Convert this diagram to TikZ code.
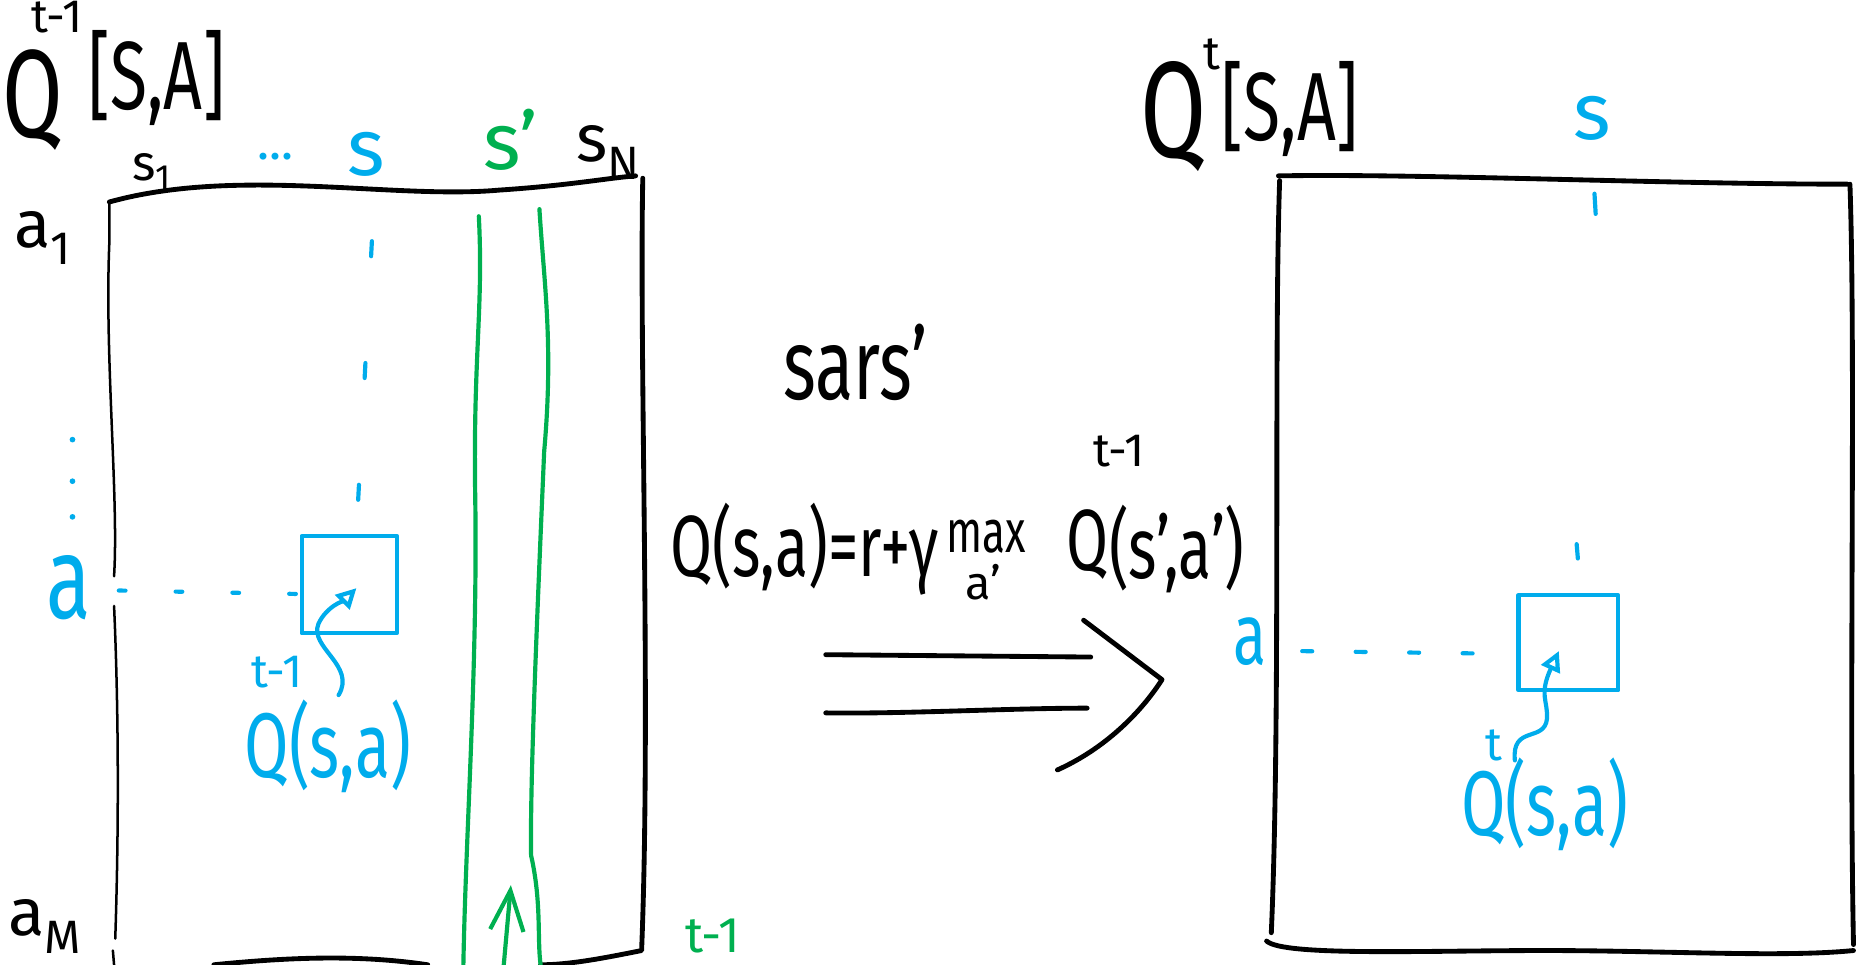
\documentclass[tikz,border=0pt]{standalone}
\usepackage{fontspec}
\usepackage{graphicx}
\setmainfont{Fira Sans}
\usetikzlibrary{arrows.meta}
\definecolor{cblue}{RGB}{0,172,236}
\definecolor{cgreen}{RGB}{0,176,80}
\newcommand\fsz[1]{\fontsize{#1}{#1}\selectfont}
\newcommand\sq[1]{\scalebox{0.7}[1]{#1}}
\begin{document}
\begin{tikzpicture}[x=0.025cm,y=-0.025cm,line cap=round,line join=round,
  ink/.style={line width=2.9pt,black},
  thinink/.style={line width=1.5pt,black},
  bink/.style={line width=2.5pt,cblue},
  gink/.style={line width=2.5pt,cgreen},
  txt/.style={inner sep=0pt,outer sep=1pt},
  btxt/.style={txt,text=cblue},
  gtxt/.style={txt,text=cgreen},
  cell/.style={draw=cblue,line width=2.5pt,minimum width=2cm,minimum height=2.05cm,inner sep=0pt}]
\useasboundingbox (0,0) rectangle (1568,812);

% ---------- left title ----------
\node[txt] (lQ) at (28,84) {\fsz{75}\sq{Q}};
\node[txt] (lSA) at (132,66) {\fsz{58}\sq{[S,A]}};
\node[txt] (lT) at (48,14) {\fsz{28}t-1};

% column labels
\node[txt] (s1) at (128,144) {\fsz{30}s\textsubscript{1}};
\node[btxt] (dots) at (232,132) {\fsz{30}...};
\node[btxt] (sL) at (308,130) {\fsz{48}s};
\node[gtxt] (sp) at (430,118) {\fsz{48}s'};
\node[txt] (sN) at (512,128) {\fsz{40}s\textsubscript{N}};

% row labels
\node[txt] (a1) at (36,200) {\fsz{40}a\textsubscript{1}};
\node[btxt] (aL) at (58,495) {\fsz{70}\sq{a}};
\node[txt] (aM) at (38,780) {\fsz{40}a\textsubscript{M}};
\foreach \yy in {370,405,435} \fill[cblue] (61,\yy) circle (2.4);

% left matrix
\coordinate (LTL) at (92,170);
\coordinate (LTR) at (535,148);
\coordinate (LBR) at (540,800);
\coordinate (LBL) at (96,812);
\draw[ink] (LTL) .. controls (200,140) and (330,168) .. (420,160) .. controls (480,156) and (510,150) .. (LTR);
\draw[thinink] (LTL) -- (92,205) .. controls (88,300) and (100,420) .. (96,485);
\draw[thinink] (96,510) .. controls (100,600) and (100,700) .. (97,790);
\draw[thinink] (95,800) -- (LBL);
\draw[ink] (541,150) .. controls (538,300) and (548,600) .. (LBR) .. controls (510,806) and (480,812) .. (455,812);
\draw[ink] (180,812) .. controls (240,806) and (300,803) .. (360,812);

% green column
\draw[gink] (403,182) .. controls (407,260) and (398,300) .. (400,420) .. controls (402,560) and (392,700) .. (390,812);
\draw[gink] (454,176) .. controls (458,240) and (466,290) .. (458,380) .. controls (452,520) and (446,660) .. (447,720) .. controls (456,760) and (452,790) .. (455,812);
\coordinate (gA) at (424,812);
\coordinate (gB) at (430,745);
\draw[gink,-{Straight Barb[length=24pt,width=20pt]}] (gA) -- (gB);
\node[gtxt] (gT) at (600,788) {\fsz{30}t-1};

% blue dashes
\draw[bink,dash pattern=on 9pt off 64pt] (313,203) -- (300,448);
\draw[bink,dash pattern=on 4pt off 30pt] (100,497) -- (255,500);

% blue cell and label
\node[cell] (cellL) at (294,492) {};
\node[btxt] (lt1) at (233,566) {\fsz{28}t-1};
\node[btxt] (lQsa) at (276,628) {\fsz{55}\sq{Q(s,a)}};
\draw[bink,-{Triangle[open,length=12pt,width=12pt]}] (285,585) .. controls (300,560) and (260,545) .. (268,525) .. controls (275,510) and (290,505) .. (300,495);

% ---------- middle ----------
\node[txt] (sars) at (720,305) {\fsz{60}\sq{sars'}};
\node[txt,anchor=west] (eqA) at (563,462) {\fsz{52}\sq{Q(s,a)=r+γ}};
\node[txt] (eqMax) at (830,452) {\fsz{36}\sq{max}};
\node[txt] (eqSub) at (828,490) {\fsz{28}a'};
\node[txt] (eqQ) at (915,458) {\fsz{52}\sq{Q}};
\node[txt] (eqT) at (942,380) {\fsz{28}t-1};
\node[txt,anchor=west] (eqB) at (932,462) {\fsz{52}\sq{(s',a')}};

\coordinate (ar1a) at (695,551);
\coordinate (ar1b) at (918,553);
\coordinate (ar2a) at (695,600);
\coordinate (ar2b) at (915,596);
\draw[ink] (ar1a) -- (ar1b);
\draw[ink] (ar2a) .. controls (760,601) and (850,596) .. (ar2b);
\draw[ink] (912,522) -- (978,572) .. controls (960,600) and (930,630) .. (890,648);

% ---------- right ----------
\node[txt] (rQ) at (988,98) {\fsz{82}\sq{Q}};
\node[txt] (rT) at (1020,46) {\fsz{28}t};
\node[txt] (rSA) at (1086,92) {\fsz{58}\sq{[S,A]}};
\node[btxt] (sR) at (1340,100) {\fsz{48}s};

\coordinate (RTL) at (1076,148);
\coordinate (RTR) at (1555,155);
\coordinate (RBR) at (1560,800);
\coordinate (RBL) at (1066,792);
\draw[ink] (RTL) .. controls (1200,146) and (1400,155) .. (RTR);
\draw[ink] (1077,152) .. controls (1072,300) and (1078,600) .. (1070,785);
\draw[ink] (1557,155) .. controls (1562,300) and (1556,600) .. (1560,795);
\draw[ink] (RBL) .. controls (1080,805) and (1200,800) .. (1300,800) .. controls (1400,800) and (1500,806) .. (RBR);

\draw[bink] (1342,163) -- (1343,180);
\draw[bink] (1327,458) -- (1328,470);
\node[btxt] (aR) at (1052,540) {\fsz{52}\sq{a}};
\draw[bink,dash pattern=on 6pt off 26pt] (1096,548) -- (1245,550);

\node[cell,minimum width=2.1cm,minimum height=2cm] (cellR) at (1320,541) {};
\node[btxt] (rt) at (1257,627) {\fsz{28}t};
\node[btxt] (rQsa) at (1300,677) {\fsz{55}\sq{Q(s,a)}};
\draw[bink,-{Triangle[open,length=12pt,width=12pt]}] (1275,640) .. controls (1272,610) and (1300,625) .. (1302,605) .. controls (1303,590) and (1295,585) .. (1312,548);
\end{tikzpicture}
\end{document}
